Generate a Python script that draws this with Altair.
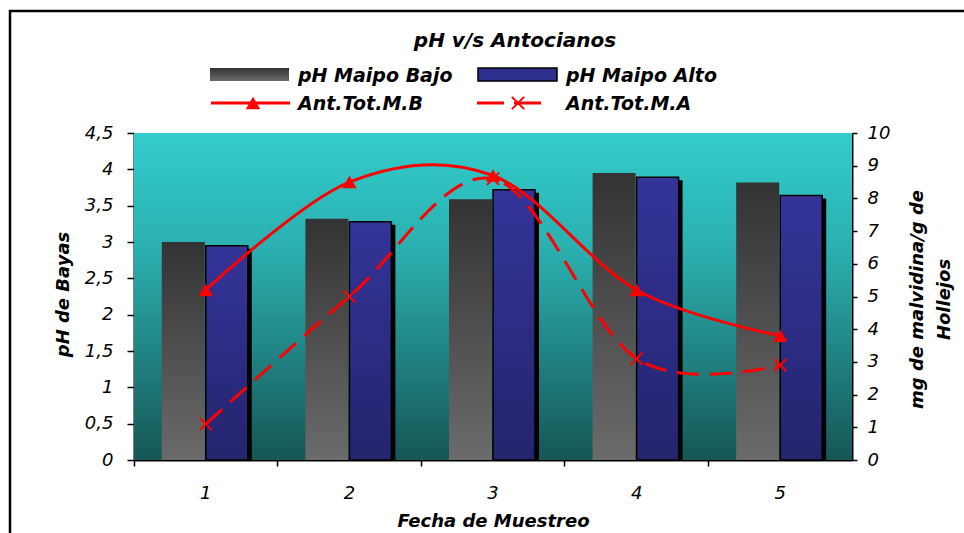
import altair as alt
import pandas as pd

# Sampling dates
fechas = ["1", "2", "3", "4", "5"]
# Berry pH per zone
ph_maipo_bajo = [3.00, 3.32, 3.59, 3.95, 3.82]
ph_maipo_alto = [2.95, 3.28, 3.72, 3.89, 3.64]
# Total anthocyanins (mg malvidin / g skins)
ant_tot_mb = [5.2, 8.5, 8.7, 5.2, 3.8]
ant_tot_ma = [1.1, 5.0, 8.6, 3.1, 2.9]

series_ph = ["pH Maipo Bajo", "pH Maipo Alto"]
series_ant = ["Ant.Tot.M.B", "Ant.Tot.M.A"]
ticks_ph = [0, 0.5, 1, 1.5, 2, 2.5, 3, 3.5, 4, 4.5]
ticks_ant = [0, 1, 2, 3, 4, 5, 6, 7, 8, 9, 10]

W, H = 718, 327
FONT = "DejaVu Sans"
RED = "#FF0000"

ph_df = pd.DataFrame({
    "fecha": fechas * 2,
    "serie": [series_ph[0]] * len(fechas) + [series_ph[1]] * len(fechas),
    "ph": ph_maipo_bajo + ph_maipo_alto,
})
ant_df = pd.DataFrame({
    "fecha": fechas * 2,
    "serie": [series_ant[0]] * len(fechas) + [series_ant[1]] * len(fechas),
    "ant": ant_tot_mb + ant_tot_ma,
})
one = pd.DataFrame({"k": [0]})


def vgrad(top, bottom):
    return alt.Gradient(
        gradient="linear",
        stops=[alt.GradientStop(color=top, offset=0), alt.GradientStop(color=bottom, offset=1)],
        x1=0, x2=0, y1=0, y2=1,
    )


grad_bg = alt.Gradient(
    gradient="linear",
    stops=[
        alt.GradientStop(color="#33CCCC", offset=0),
        alt.GradientStop(color="#2BB0B0", offset=0.35),
        alt.GradientStop(color="#165656", offset=1),
    ],
    x1=0, x2=0, y1=0, y2=1,
)
grad_gray = vgrad("#333333", "#6B6B6B")
grad_blue = vgrad("#343499", "#24246E")

x_axis = alt.Axis(
    title="Fecha de Muestreo", bandPosition=0, labelAngle=0,
    tickSize=6, labelPadding=18, labelFontSize=18, titleFontSize=18,
    titleY=66, titleBaseline="alphabetic",
)
x_enc = alt.X("fecha:N", sort=fechas,
              scale=alt.Scale(type="band", paddingInner=0, paddingOuter=0), axis=x_axis)

left_axis = alt.Axis(
    title="pH de Bayas", values=ticks_ph, orient="left",
    labelExpr="replace(toString(datum.value), '.', ',')",
    tickSize=7, labelPadding=14, labelFontSize=18, titleFontSize=18,
    titleAngle=270, titleX=-71, titleY=161, titleAlign="center", titleBaseline="middle",
)
right_axis = alt.Axis(
    title=["mg de malvidina/g de", "Hollejos"], values=ticks_ant, orient="right",
    tickSize=5, labelPadding=10, labelFontSize=18, titleFontSize=18,
    titleAngle=270, titleX=65, titleY=166, titleAlign="center", titleBaseline="middle",
    titleLineHeight=27,
)

y_ph = alt.Y("ph:Q", scale=alt.Scale(domain=[0, 4.5], nice=False), axis=left_axis)
y_ant = alt.Y("ant:Q", scale=alt.Scale(domain=[0, 10], nice=False), axis=right_axis)
y_zero = alt.Y2(datum=0)

# plot background
background = alt.Chart(one).mark_rect(fill=grad_bg).encode(
    x=alt.value(0), x2=alt.value("width"), y=alt.value(0), y2=alt.value("height")
)

# pH bars: grey series left of each date's centre, blue series right of it
bars_bajo = alt.Chart(ph_df).transform_filter(
    alt.datum.serie == series_ph[0]
).mark_bar(fill=grad_gray, width=43, xOffset=-22.5).encode(x=x_enc, y=y_ph, y2=y_zero)

shadow_alto = alt.Chart(ph_df).transform_filter(
    alt.datum.serie == series_ph[1]
).mark_bar(color="black", width=42, xOffset=25, yOffset=3).encode(x=x_enc, y=y_ph, y2=y_zero)

bars_alto = alt.Chart(ph_df).transform_filter(
    alt.datum.serie == series_ph[1]
).mark_bar(fill=grad_blue, stroke="black", strokeWidth=1.5, width=42, xOffset=21).encode(
    x=x_enc, y=y_ph, y2=y_zero)

bars = alt.layer(bars_bajo, shadow_alto, bars_alto)

# anthocyanin lines
base_b = alt.Chart(ant_df).transform_filter(alt.datum.serie == series_ant[0])
base_a = alt.Chart(ant_df).transform_filter(alt.datum.serie == series_ant[1])

TRI = dict(shape="triangle-up", filled=True, size=210, color=RED, opacity=1)
CROSS = dict(shape="M-1,-1L1,1M-1,1L1,-1", filled=False, size=150, strokeWidth=2, color=RED, opacity=1)

line_b = base_b.mark_line(color=RED, strokeWidth=3, interpolate="cardinal").encode(x=x_enc, y=y_ant)
pts_b = base_b.mark_point(**TRI).encode(x=x_enc, y=y_ant)
line_a = base_a.mark_line(color=RED, strokeWidth=3, strokeDash=[22, 11], interpolate="cardinal").encode(
    x=x_enc, y=y_ant)
pts_a = base_a.mark_point(**CROSS).encode(x=x_enc, y=y_ant)

lines = alt.layer(line_b, line_a, pts_b, pts_a)

# title and legend above the plot
text_style = dict(font=FONT, fontStyle="italic", fontWeight="bold", color="black")
title = alt.Chart(one).mark_text(align="center", baseline="alphabetic", fontSize=20, **text_style).encode(
    x=alt.value(381), y=alt.value(-86), text=alt.value("pH v/s Antocianos")
)
leg_gray = alt.Chart(one).mark_rect(fill=grad_gray).encode(
    x=alt.value(76), x2=alt.value(155), y=alt.value(-65), y2=alt.value(-52))
leg_blue = alt.Chart(one).mark_rect(fill="#2E2E8C", stroke="black", strokeWidth=1.5).encode(
    x=alt.value(344), x2=alt.value(423), y=alt.value(-65), y2=alt.value(-52))
leg_line_b = alt.Chart(one).mark_rule(color=RED, strokeWidth=3).encode(
    x=alt.value(77), x2=alt.value(156), y=alt.value(-30))
leg_pt_b = alt.Chart(one).mark_point(**TRI).encode(x=alt.value(119), y=alt.value(-30))
leg_line_a = alt.Chart(one).mark_rule(color=RED, strokeWidth=3, strokeDash=[27, 10]).encode(
    x=alt.value(343), x2=alt.value(414), y=alt.value(-30))
leg_pt_a = alt.Chart(one).mark_point(**CROSS).encode(x=alt.value(384), y=alt.value(-30))
leg_texts = [
    alt.Chart(one).mark_text(align="left", baseline="alphabetic", fontSize=19, **text_style).encode(
        x=alt.value(px), y=alt.value(py), text=alt.value(label))
    for label, px, py in [
        (series_ph[0], 164, -51), (series_ph[1], 432, -51),
        (series_ant[0], 164, -23), (series_ant[1], 432, -23),
    ]
]

# outer chart frame
frame = alt.Chart(one).mark_rect(filled=False, color="black", strokeWidth=2.5).encode(
    x=alt.value(-124), x2=alt.value(840), y=alt.value(-122), y2=alt.value(410))

chart = alt.layer(
    background, bars, lines, title, leg_gray, leg_blue, leg_line_b, leg_pt_b,
    leg_line_a, leg_pt_a, *leg_texts, frame,
).resolve_scale(y="independent").properties(
    width=W, height=H,
    autosize=alt.AutoSizeParams(type="none"),
    padding={"left": 134, "top": 133, "right": 112, "bottom": 73},
    background="white",
).configure_view(strokeWidth=0).configure_axis(
    grid=False, domainColor="black", domainWidth=2, tickColor="black", tickWidth=1.5,
    labelColor="black", titleColor="black", labelFont=FONT, titleFont=FONT,
    labelFontStyle="italic", labelFontWeight="normal", titleFontStyle="italic", titleFontWeight="bold",
)

chart.save("out.html", embed_options={"renderer": "svg", "actions": False})
